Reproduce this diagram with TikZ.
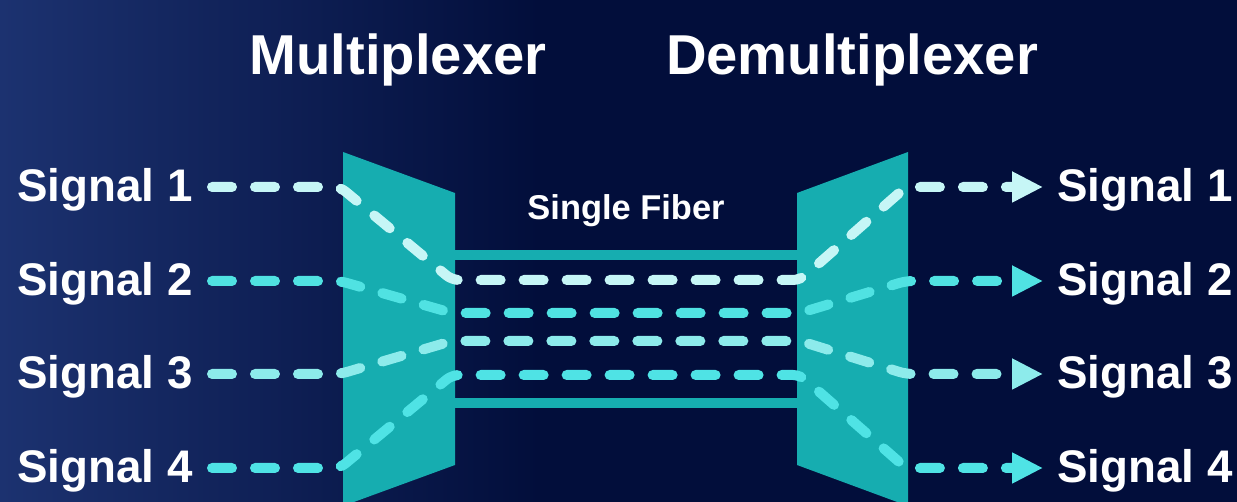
\documentclass[tikz,border=0pt]{standalone}
\usepackage{fontspec}
\setmainfont{Liberation Sans}
\usetikzlibrary{arrows.meta}
\definecolor{bgdark}{HTML}{020E3B}
\definecolor{bgleft}{HTML}{1C3270}
\definecolor{tealbox}{HTML}{16ADB0}
\definecolor{cA}{HTML}{C6F6F6}
\definecolor{cB}{HTML}{50E2E2}
\definecolor{cC}{HTML}{8DEBEB}
\definecolor{cD}{HTML}{4FE3E5}
\tikzset{
  sig/.style={line width=0.2cm, line cap=round, dash pattern=on 0.4cm off 0.46cm, rounded corners=0.14cm},
  tip/.style={-{Triangle[length=0.62cm,width=0.58cm]}},
  lbl/.style={text=white, font=\fontsize{26}{30}\selectfont\bfseries, inner sep=0pt, text height=0.68cm, text depth=0.08cm},
  title/.style={text=white, font=\fontsize{32}{38}\selectfont\bfseries, inner sep=0pt, anchor=base},
  fibertxt/.style={text=white, font=\fontsize{19.6}{23}\selectfont\bfseries, inner sep=0pt, anchor=base},
  block/.style={fill=tealbox}
}
\begin{document}
\begin{tikzpicture}[x=0.02cm,y=-0.02cm]
\useasboundingbox (0,0) rectangle (1237,502);
\clip (0,0) rectangle (1237,502);
\fill[bgdark] (0,0) rectangle (1237,502);
\shade[left color=bgleft, right color=bgdark] (0,0) rectangle (540,502);

% multiplexer and demultiplexer blocks
\fill[block] (343,152) -- (455,193) -- (455,465) -- (343,506) -- cycle;
\fill[block] (797,193) -- (908,152) -- (908,506) -- (797,465) -- cycle;
% single fiber walls
\fill[block] (455,250) rectangle (797,260);
\fill[block] (455,398) rectangle (797,408);

% titles
\node[title] (mux) at (398,75) {Multiplexer};
\node[title] (demux) at (852,75) {Demultiplexer};
\node[fibertxt] (fiber) at (626,220) {Single Fiber};

% labels
\node[lbl, anchor=east] (s1L) at (193,187) {Signal 1};
\node[lbl, anchor=east] (s2L) at (193,281) {Signal 2};
\node[lbl, anchor=east] (s3L) at (193,374) {Signal 3};
\node[lbl, anchor=east] (s4L) at (193,468) {Signal 4};
\node[lbl, anchor=west] (s1R) at (1057,187) {Signal 1};
\node[lbl, anchor=west] (s2R) at (1057,281) {Signal 2};
\node[lbl, anchor=west] (s3R) at (1057,374) {Signal 3};
\node[lbl, anchor=west] (s4R) at (1057,468) {Signal 4};

% bend points
\coordinate (a1) at (340,187); \coordinate (b1) at (452,280); \coordinate (c1) at (800,280); \coordinate (d1) at (906,187);
\coordinate (a2) at (340,281); \coordinate (b2) at (452,313); \coordinate (c2) at (800,313); \coordinate (d2) at (906,281);
\coordinate (a3) at (340,374); \coordinate (b3) at (452,341); \coordinate (c3) at (800,341); \coordinate (d3) at (906,374);
\coordinate (a4) at (340,468); \coordinate (b4) at (452,375); \coordinate (c4) at (800,375); \coordinate (d4) at (906,468);

% signals
\draw[sig, tip, cB] ([xshift=0.38cm]s2L.east) -- (a2) -- (b2) -- (c2) -- (d2) -- ([xshift=-0.28cm]s2R.west);
\draw[sig, tip, cD] ([xshift=0.38cm]s4L.east) -- (a4) -- (b4) -- (c4) -- (d4) -- ([xshift=-0.28cm]s4R.west);
\draw[sig, tip, cC] ([xshift=0.38cm]s3L.east) -- (a3) -- (b3) -- (c3) -- (d3) -- ([xshift=-0.28cm]s3R.west);
\draw[sig, tip, cA] ([xshift=0.38cm]s1L.east) -- (a1) -- (b1) -- (c1) -- (d1) -- ([xshift=-0.28cm]s1R.west);
\end{tikzpicture}
\end{document}
